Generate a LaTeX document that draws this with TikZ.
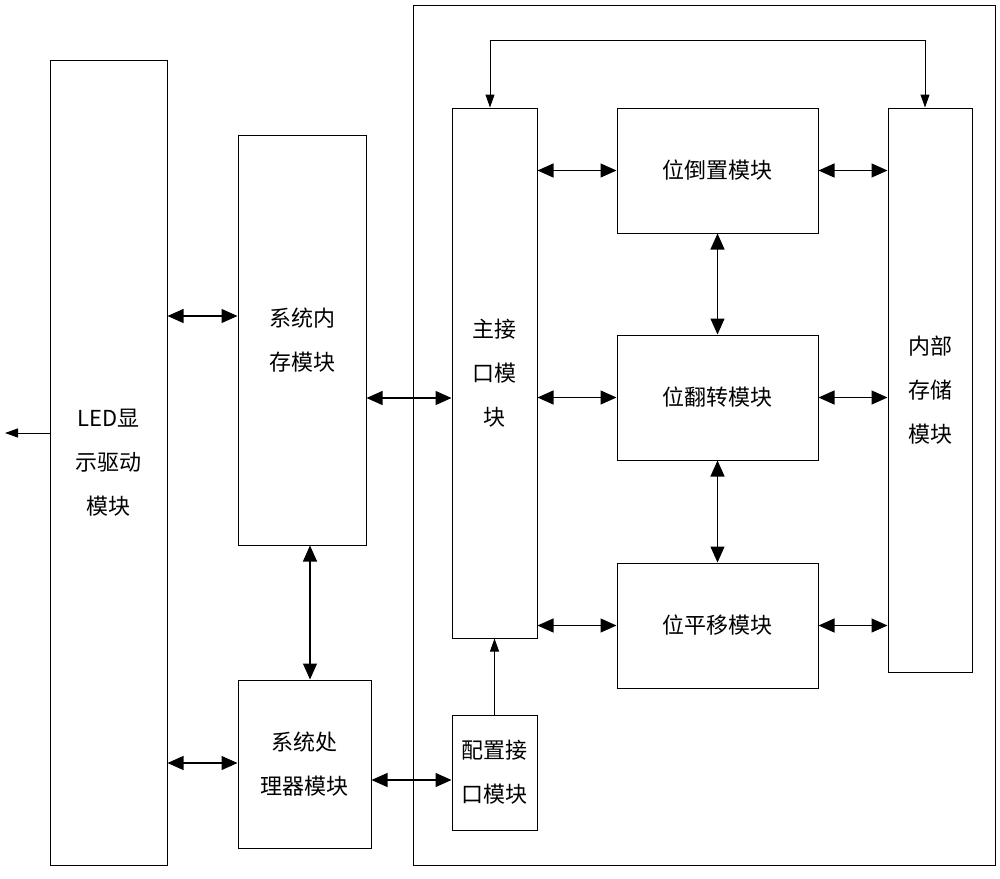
\documentclass[tikz,border=0pt]{standalone}
\usepackage{fontspec}
\newfontfamily\cjk{Noto Sans CJK SC}
\usetikzlibrary{arrows.meta}
\begin{document}
\begin{tikzpicture}[x=1pt,y=-1pt,
 box/.style={draw,line width=1pt,inner sep=0pt,align=center,font=\cjk\fontsize{22}{44}\selectfont},
 da/.style={line width=1.2pt,arrows={Triangle[length=16pt,width=14pt]-Triangle[length=16pt,width=14pt]}},
 sa/.style={line width=1pt,arrows={-Triangle[length=13pt,width=9pt]}}]
\useasboundingbox (0,0) rectangle (1000,878);
\draw[line width=1pt] (413,5) rectangle (995,865);
\node[box,minimum width=117pt,minimum height=805pt] (led) at (108.5,462.5) {LED显\\示驱动\\模块};
\node[box,minimum width=128pt,minimum height=410pt] (mem) at (302,340) {系统内\\存模块};
\node[box,minimum width=133pt,minimum height=168pt] (cpu) at (304.5,764) {系统处\\理器模块};
\node[box,minimum width=85pt,minimum height=530pt] (main) at (494.5,373) {主接\\口模\\块};
\node[box,minimum width=85pt,minimum height=115pt] (cfg) at (494.5,772.5) {配置接\\口模块};
\node[box,minimum width=201pt,minimum height=125pt] (inv) at (717.5,170.5) {位倒置模块};
\node[box,minimum width=201pt,minimum height=125pt] (flp) at (717.5,397.5) {位翻转模块};
\node[box,minimum width=201pt,minimum height=125pt] (sft) at (717.5,625.5) {位平移模块};
\node[box,minimum width=84pt,minimum height=564pt] (ist) at (930,390) {内部\\存储\\模块};
\coordinate (o) at (5,433);
\draw[sa] (led.west|-o) -- (o);
\draw[da] (led.east|-0,316) -- (mem.west|-0,316);
\draw[da] (led.east|-0,763) -- (cpu.west|-0,763);
\draw[da] (mem.east|-0,398) -- (main.west|-0,398);
\draw[da] (mem.south-|310,0) -- (cpu.north-|310,0);
\draw[da] (cpu.east|-0,780) -- (cfg.west|-0,780);
\draw[sa] (cfg.north) -- (main.south);
\foreach \b in {inv,flp,sft}{
 \draw[da] (main.east|-\b.center) -- (\b.west);
 \draw[da] (\b.east) -- (ist.west|-\b.center);}
\draw[da] (inv.south) -- (flp.north);
\draw[da] (flp.south) -- (sft.north);
\coordinate (t1) at (490,40); \coordinate (t2) at (925,40);
\draw[sa] (t1) -- (main.north-|t1);
\draw[sa] (t2) -- (ist.north-|t2);
\draw[line width=1pt] (t1) -- (t2);
\end{tikzpicture}
\end{document}
